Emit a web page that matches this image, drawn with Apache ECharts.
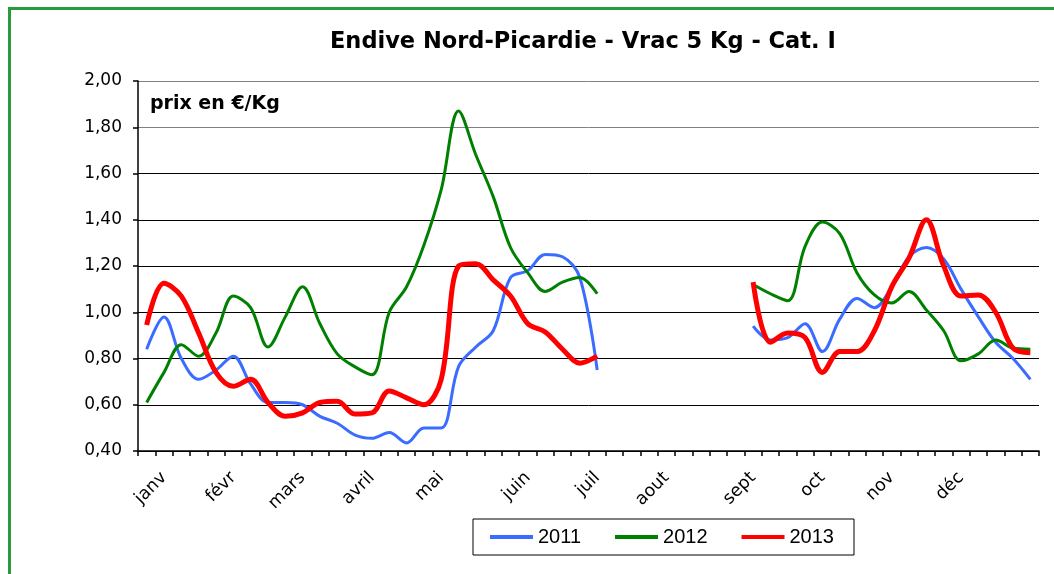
<!DOCTYPE html>
<html>
<head>
<meta charset="utf-8">
<title>Endive Nord-Picardie</title>
<script src="https://cdn.jsdelivr.net/npm/echarts@6/dist/echarts.min.js"></script>
<style>
    html, body { margin: 0; padding: 0; background: #fff; }
    #chart { width: 1054px; height: 574px; }
</style>
</head>
<body>
<div id="chart"></div>
<script>
// month labels and the week index they sit on (52 weeks)
var monthNames = ['janv', 'févr', 'mars', 'avril', 'mai', 'juin', 'juil', 'aout', 'sept', 'oct', 'nov', 'déc'];
var monthWeeks = [1, 5, 9, 13, 17, 22, 26, 30, 35, 39, 43, 47];
var yTicks = [0.4, 2.0, 0.2];

// prix en €/Kg, semaines 1-27 puis 36-52 (null = pas de cotation)
var y2011a = [0.84, 0.98, 0.80, 0.71, 0.75, 0.81, 0.69, 0.61, 0.61, 0.60, 0.55, 0.52, 0.47, 0.455,
    0.48, 0.435, 0.50, 0.50, 0.765, 0.85, 0.92, 1.15, 1.18, 1.25, 1.24, 1.15, 0.75];
var y2011b = [0.94, 0.88, 0.89, 0.95, 0.83, 0.97, 1.06, 1.02, 1.11, 1.24, 1.28, 1.23, 1.10, 0.98, 0.87, 0.80, 0.71];

var y2012a = [0.61, 0.74, 0.86, 0.81, 0.91, 1.07, 1.02, 0.85, 0.98, 1.11, 0.95, 0.82, 0.765, 0.73,
    1.00, 1.11, 1.29, 1.53, 1.87, 1.68, 1.50, 1.28, 1.17, 1.09, 1.13, 1.15, 1.08];
var y2012b = [1.12, 1.08, 1.05, 1.285, 1.39, 1.34, 1.17, 1.075, 1.04, 1.09, 1.01, 0.92, 0.79, 0.82, 0.88, 0.845, 0.84];

var y2013a = [0.945, 1.125, 1.07, 0.91, 0.74, 0.68, 0.71, 0.61, 0.55, 0.565, 0.61, 0.615, 0.56, 0.565,
    0.66, 0.63, 0.60, 0.71, 1.20, 1.21, 1.14, 1.07, 0.95, 0.915, 0.84, 0.78, 0.81];
var y2013b = [1.13, 0.87, 0.91, 0.89, 0.74, 0.83, 0.83, 0.92, 1.11, 1.235, 1.40, 1.20, 1.07, 1.075, 1.00, 0.845, 0.825];

var gap = [null, null, null, null, null, null, null, null];

var weeks = [];
for (var i = 0; i < 52; i++) {
    var k = monthWeeks.indexOf(i);
    weeks.push(k >= 0 ? monthNames[k] : '');
}

var chart = echarts.init(document.getElementById('chart'));

function line(name, data, color, width) {
    return {
        name: name,
        type: 'line',
        data: data,
        smooth: 0.35,
        showSymbol: false,
        symbol: 'none',
        connectNulls: false,
        itemStyle: {color: color},
        lineStyle: {color: color, width: width},
        z: width > 4 ? 4 : 3
    };
}

chart.setOption({
    animation: false,
    title: {
        text: 'Endive Nord-Picardie - Vrac 5 Kg - Cat. I',
        left: 330,
        top: 31,
        padding: 0,
        textStyle: {fontFamily: 'DejaVu Sans', fontWeight: 'bold', fontSize: 22.5, color: '#000'}
    },
    graphic: [
        {
            type: 'rect',
            shape: {x: 9.5, y: 8.5, width: 1100, height: 620},
            style: {fill: 'none', stroke: '#2a9a3c', lineWidth: 3},
            silent: true
        },
        {
            type: 'text',
            style: {
                x: 150, y: 104, text: 'prix en €/Kg',
                fontFamily: 'DejaVu Sans', fontWeight: 'bold', fontSize: 19,
                fill: '#000', verticalAlign: 'middle'
            }
        }
    ],
    legend: {
        left: 473,
        top: 519,
        orient: 'horizontal',
        padding: [8, 20, 8, 17],
        itemGap: 34,
        itemWidth: 43,
        itemHeight: 4,
        icon: 'rect',
        borderColor: '#000',
        borderWidth: 1,
        borderRadius: 0,
        textStyle: {fontFamily: 'Liberation Sans', fontSize: 20, color: '#000'},
        data: ['2011', '2012', '2013']
    },
    grid: {left: 138, right: 15, top: 81, bottom: 123},
    xAxis: {
        type: 'category',
        data: weeks,
        boundaryGap: true,
        axisLine: {lineStyle: {color: '#000', width: 1.5}},
        axisTick: {show: true, interval: 0, length: 5, lineStyle: {color: '#000', width: 1.5}},
        axisLabel: {
            interval: 0, rotate: 45, margin: 24,
            fontFamily: 'DejaVu Sans', fontSize: 17.5, color: '#000'
        },
        splitLine: {show: false}
    },
    yAxis: {
        type: 'value',
        min: yTicks[0],
        max: yTicks[1],
        interval: yTicks[2],
        axisLine: {show: true, lineStyle: {color: '#000', width: 1.5}},
        axisTick: {show: true, length: 5, lineStyle: {color: '#000', width: 1.5}},
        axisLabel: {
            margin: 16,
            fontFamily: 'DejaVu Sans', fontSize: 17, color: '#000',
            formatter: function (v) {
                return v.toFixed(2).replace('.', ',');
            }
        },
        splitLine: {
            show: true,
            lineStyle: {
                color: ['#000', '#000', '#000', '#000', '#000', '#000', '#000', '#808080', '#808080'],
                width: 1
            }
        }
    },
    series: [
        line('2011', y2011a.concat(gap, y2011b), '#3a6cff', 3),
        line('2012', y2012a.concat(gap, y2012b), '#008000', 3),
        line('2013', y2013a.concat(gap, y2013b), '#ff0000', 5)
    ]
});
</script>
</body>
</html>
